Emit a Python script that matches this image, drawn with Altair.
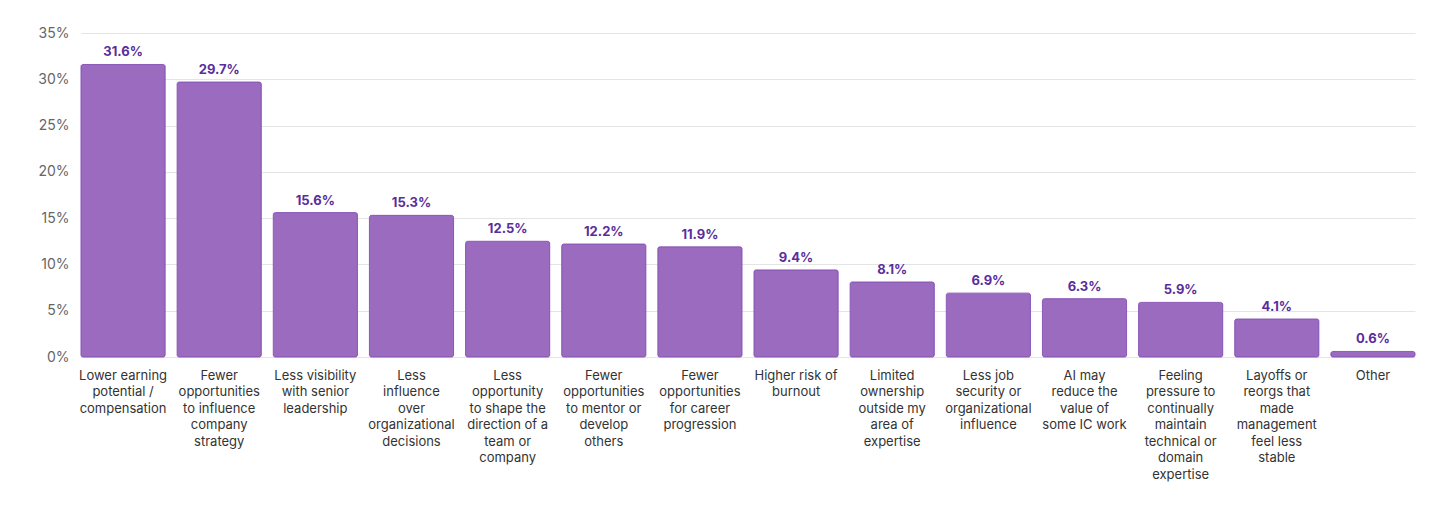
import altair as alt
import pandas as pd

categories = [
    "Lower earning|potential /|compensation",
    "Fewer|opportunities|to influence|company|strategy",
    "Less visibility|with senior|leadership",
    "Less|influence|over|organizational|decisions",
    "Less|opportunity|to shape the|direction of a|team or|company",
    "Fewer|opportunities|to mentor or|develop|others",
    "Fewer|opportunities|for career|progression",
    "Higher risk of|burnout",
    "Limited|ownership|outside my|area of|expertise",
    "Less job|security or|organizational|influence",
    "AI may|reduce the|value of|some IC work",
    "Feeling|pressure to|continually|maintain|technical or|domain|expertise",
    "Layoffs or|reorgs that|made|management|feel less|stable",
    "Other",
]
values = [31.6, 29.7, 15.6, 15.3, 12.5, 12.2, 11.9, 9.4, 8.1, 6.9, 6.3, 5.9, 4.1, 0.6]

df = pd.DataFrame({"category": categories, "value": [v / 100 for v in values]})
df["label"] = [f"{v:.1f}%" for v in values]

FONT = "Inter"

x = alt.X(
    "category:N",
    sort=categories,
    title=None,
    scale=alt.Scale(paddingInner=0.125, paddingOuter=0),
    axis=alt.Axis(
        labelExpr="split(datum.label, '|')",
        labelAngle=0,
        labelAlign="center",
        labelBaseline="top",
        labelFontSize=13,
        labelColor="#333333",
        labelFont=FONT,
        labelLineHeight=16.5,
        labelPadding=12,
        labelLimit=200,
        ticks=False,
        domain=False,
        grid=False,
    ),
)

y = alt.Y(
    "value:Q",
    title=None,
    scale=alt.Scale(domain=[0, 0.35], nice=False),
    axis=alt.Axis(
        values=[0, 0.05, 0.1, 0.15, 0.2, 0.25, 0.3, 0.35],
        format=".0%",
        labelFontSize=14,
        labelColor="#666666",
        labelFont=FONT,
        labelPadding=12,
        ticks=False,
        domain=False,
        gridColor="#e4e4e4",
        gridWidth=1,
    ),
)

bars = alt.Chart(df).mark_bar(
    color="#9b6bbf",
    stroke="#8c58b8",
    strokeWidth=1,
    cornerRadius=2,
).encode(x=x, y=y)

text = alt.Chart(df).mark_text(
    dy=-5,
    baseline="bottom",
    fontSize=13,
    fontWeight="bold",
    font=FONT,
    color="#5a2d9c",
).encode(
    x=alt.X("category:N", sort=categories),
    y=alt.Y("value:Q"),
    text="label:N",
)

chart = (
    alt.layer(bars, text)
    .properties(
        width=1334,
        height=324,
        background="white",
        autosize=alt.AutoSizeParams(type="none"),
        padding={"left": 73, "top": 25, "right": 30, "bottom": 150},
    )
    .configure_view(strokeWidth=0, stroke="transparent")
)

chart.save("out.html", embed_options={"renderer": "svg", "actions": False})
